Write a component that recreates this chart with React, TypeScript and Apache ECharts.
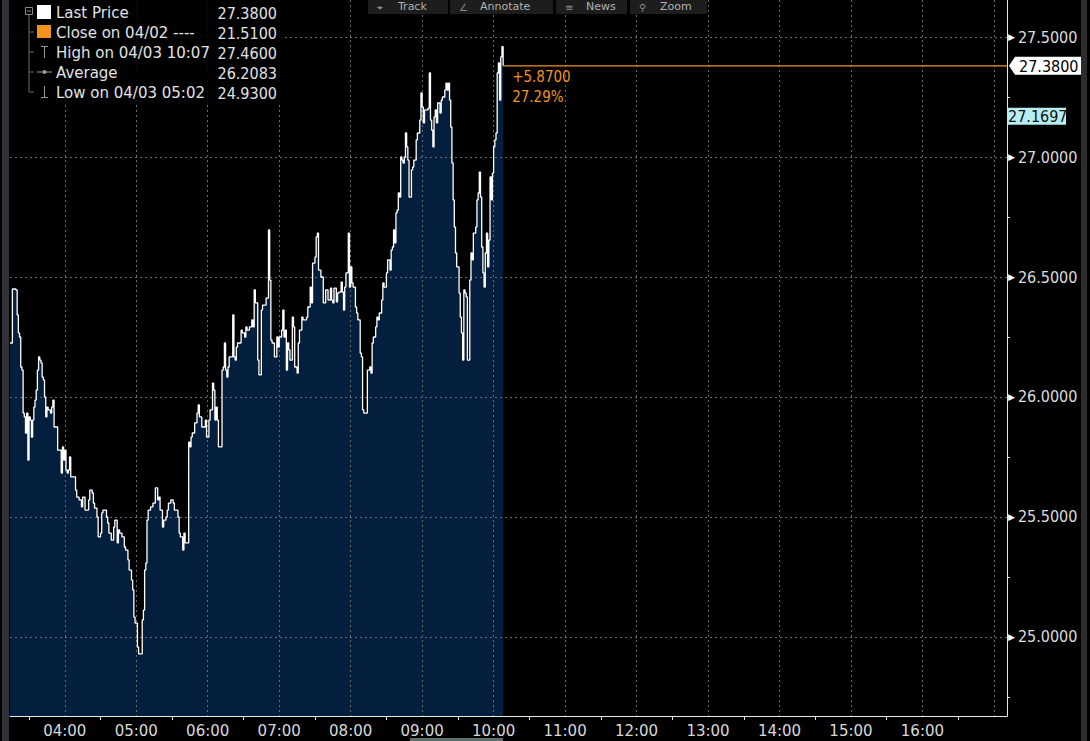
import React, { useEffect, useRef } from 'react';
import * as echarts from 'echarts';

// ---- data ----
const times = [
  '03:14','03:16','03:19','03:20','03:21','03:22','03:23','03:24','03:25','03:26','03:27','03:28','03:29','03:30','03:31','03:32','03:33','03:34','03:35','03:36',
  '03:37','03:38','03:39','03:40','03:41','03:42','03:43','03:44','03:45','03:46','03:47','03:48','03:49','03:50','03:51','03:53','03:54','03:56','03:57','03:58',
  '03:59','04:00','04:01','04:02','04:03','04:04','04:05','04:07','04:09','04:10','04:12','04:14','04:15','04:17','04:19','04:20','04:21','04:23','04:24','04:25',
  '04:27','04:28','04:30','04:31','04:32','04:35','04:36','04:37','04:39','04:41','04:42','04:44','04:45','04:46','04:48','04:50','04:51','04:53','04:54','04:56',
  '04:57','04:58','04:59','05:01','05:02','05:03','05:04','05:05','05:06','05:07','05:08','05:09','05:10','05:12','05:14','05:16','05:18','05:19','05:20','05:22',
  '05:23','05:25','05:26','05:27','05:29','05:31','05:32','05:35','05:36','05:37','05:39','05:40','05:41','05:43','05:44','05:45','05:46','05:47','05:49','05:51',
  '05:52','05:53','05:55','05:57','05:58','05:59','06:01','06:02','06:04','06:05','06:06','06:07','06:08','06:09','06:12','06:13','06:14','06:15','06:16','06:17',
  '06:18','06:21','06:22','06:23','06:24','06:25','06:28','06:29','06:31','06:32','06:33','06:35','06:37','06:38','06:39','06:40','06:42','06:43','06:45','06:46',
  '06:49','06:51','06:52','06:53','06:54','06:56','06:58','06:59','07:00','07:02','07:03','07:04','07:05','07:06','07:07','07:08','07:09','07:11','07:12','07:13',
  '07:15','07:16','07:17','07:19','07:20','07:23','07:24','07:26','07:27','07:28','07:30','07:31','07:32','07:33','07:35','07:37','07:39','07:41','07:43','07:44',
  '07:45','07:46','07:48','07:49','07:50','07:52','07:53','07:54','07:55','07:56','07:58','07:59','08:00','08:01','08:02','08:04','08:05','08:06','08:08','08:09',
  '08:10','08:11','08:14','08:16','08:17','08:18','08:19','08:21','08:22','08:23','08:24','08:26','08:27','08:28','08:30','08:31','08:33','08:34','08:35','08:36',
  '08:37','08:38','08:39','08:40','08:41','08:42','08:43','08:44','08:45','08:46','08:47','08:48','08:49','08:51','08:52','08:53','08:55','08:56','08:58','08:59',
  '09:00','09:01','09:02','09:05','09:06','09:07','09:08','09:09','09:10','09:11','09:12','09:13','09:15','09:16','09:17','09:19','09:20','09:21','09:22','09:23',
  '09:24','09:25','09:26','09:27','09:28','09:29','09:31','09:32','09:33','09:34','09:35','09:36','09:37','09:38','09:40','09:41','09:42','09:43','09:45','09:46',
  '09:47','09:48','09:49','09:50','09:51','09:52','09:53','09:54','09:55','09:56','09:57','09:58','09:59','10:00','10:01','10:02','10:03','10:04','10:05','10:06',
  '10:07','10:08'
];
const prices = [
  26.225,26.450,26.446,26.342,26.267,26.250,26.125,26.112,25.933,25.917,25.850,25.933,25.737,25.917,25.904,25.833,25.904,25.958,25.987,26.029,
  26.112,26.167,26.154,26.142,26.083,26.071,26.000,25.917,25.958,25.946,25.946,25.933,25.958,25.987,25.875,25.875,25.779,25.779,25.683,25.792,
  25.737,25.779,25.696,25.683,25.696,25.750,25.667,25.667,25.612,25.583,25.571,25.542,25.583,25.529,25.529,25.571,25.612,25.600,25.558,25.537,
  25.500,25.417,25.433,25.517,25.529,25.500,25.475,25.433,25.404,25.458,25.487,25.392,25.446,25.433,25.417,25.375,25.362,25.321,25.279,25.237,
  25.196,25.083,25.058,24.958,24.930,24.930,24.930,25.071,25.112,25.279,25.308,25.487,25.529,25.542,25.558,25.621,25.571,25.583,25.529,25.458,
  25.487,25.500,25.529,25.558,25.571,25.558,25.529,25.500,25.433,25.417,25.362,25.433,25.392,25.392,25.812,25.792,25.833,25.850,25.892,25.933,
  25.967,25.917,25.875,25.875,25.904,25.833,25.904,25.946,26.058,26.029,25.904,25.958,25.904,25.792,26.112,26.125,26.225,26.112,26.083,26.125,
  26.167,26.342,26.167,26.154,26.208,26.225,26.279,26.267,26.250,26.292,26.279,26.292,26.321,26.292,26.446,26.392,26.154,26.092,26.362,26.383,
  26.412,26.696,26.487,26.237,26.225,26.167,26.250,26.208,26.250,26.279,26.362,26.250,26.279,26.112,26.225,26.196,26.154,26.333,26.292,26.125,
  26.100,26.225,26.279,26.333,26.321,26.333,26.375,26.458,26.392,26.558,26.583,26.667,26.683,26.529,26.500,26.392,26.446,26.404,26.454,26.404,
  26.392,26.454,26.396,26.433,26.437,26.479,26.437,26.362,26.458,26.517,26.683,26.458,26.542,26.475,26.458,26.375,26.350,26.321,26.183,26.167,
  25.946,25.933,26.112,26.125,26.100,26.225,26.250,26.292,26.333,26.321,26.350,26.404,26.475,26.458,26.517,26.571,26.529,26.612,26.625,26.696,
  26.642,26.767,26.779,26.850,26.833,27.000,26.987,26.975,27.000,27.100,27.042,26.987,26.833,26.946,26.958,26.987,27.071,27.100,27.154,27.267,
  27.208,27.142,27.196,27.204,27.350,27.154,27.112,27.042,27.167,27.196,27.142,27.225,27.183,27.237,27.250,27.279,27.308,27.279,27.308,27.237,
  27.125,26.975,26.821,26.708,26.600,26.542,26.433,26.333,26.267,26.154,26.446,26.433,26.417,26.154,26.487,26.600,26.571,26.683,26.708,26.821,
  26.850,26.937,26.833,26.625,26.517,26.458,26.600,26.683,26.542,26.654,26.917,26.821,26.933,27.042,27.071,27.100,27.350,27.392,27.237,27.417,
  27.460,27.380
];
const axisStart = '03:14';
const axisEnd = '17:11';
const hourTicks = ['04:00','05:00','06:00','07:00','08:00','09:00','10:00','11:00','12:00','13:00','14:00','15:00','16:00','17:00'];
const hourLabels = ['04:00','05:00','06:00','07:00','08:00','09:00','10:00','11:00','12:00','13:00','14:00','15:00','16:00'];
const halfHourTicks = ['03:30','04:30','05:30','06:30','07:30','08:30','09:30','10:30','11:30','12:30','13:30','14:30','15:30','16:30'];
const yMin = 24.6708;
const yMax = 27.6542;
const yMajor = [25.0, 25.5, 26.0, 26.5, 27.0, 27.5];
const yMinor = [24.75, 25.25, 25.75, 26.25, 26.75, 27.25];
const legendLabels = ['Last Price', 'Close on 04/02 ----', 'High on 04/03 10:07', 'Average', 'Low on 04/03 05:02'];
const legendValues = ['27.3800', '21.5100', '27.4600', '26.2083', '24.9300'];
const lastPrice = 27.38;
const prevClose = 21.51;
const markerLevel = 27.1697;
const toolbarItems = ['Track', 'Annotate', 'News', 'Zoom'];
const toolbarIcons = ['⌖', '∠', '≡', '⚲'];

const toMin = (s: string) => {
  const [h, m] = s.split(':').map(Number);
  return h * 60 + m;
};
const fmtTime = (v: number) => {
  const h = Math.floor(v / 60);
  const m = Math.round(v - h * 60);
  return `${String(h).padStart(2, '0')}:${String(m).padStart(2, '0')}`;
};

const FONT = '"DejaVu Sans", sans-serif';
const NUMFONT = '"DejaVu Sans Condensed", "DejaVu Sans", sans-serif';
const ORANGE = '#f0931f';
const GRID_LINE = { color: '#6a6a6a', width: 1, type: [2, 3] as number[] };

export default function App() {
  const ref = useRef<HTMLDivElement>(null);

  useEffect(() => {
    if (!ref.current) return;
    const chart = echarts.init(ref.current, undefined, { renderer: 'svg' });
    const data = times.map((t, i) => [toMin(t), prices[i]]);
    const lastT = toMin(times[times.length - 1]);
    const xMin = toMin(axisStart);
    const xMax = toMin(axisEnd);

    const gridBox = { left: 10, right: 83, top: 0, bottom: 25, outerBoundsMode: 'none' } as any;

    chart.setOption({
      animation: false,
      backgroundColor: '#000',
      textStyle: { fontFamily: FONT },
      grid: [gridBox, { ...gridBox }],
      xAxis: [
        {
          type: 'value', gridIndex: 0, min: xMin, max: xMax, position: 'bottom', z: 3,
          axisLine: { show: true, onZero: false, lineStyle: { color: '#e8e8e8', width: 1 } },
          axisTick: { show: false, customValues: hourTicks.map(toMin) },
          axisLabel: {
            customValues: hourLabels.map(toMin), formatter: (v: number) => fmtTime(v),
            color: '#d8d8d8', fontSize: 15, margin: 7, fontFamily: FONT,
          },
          splitLine: { show: true, lineStyle: GRID_LINE },
        },
        {
          type: 'value', gridIndex: 1, min: xMin, max: xMax, position: 'bottom', z: 3,
          axisLine: { show: false },
          axisTick: { show: true, length: 4, customValues: halfHourTicks.map(toMin), lineStyle: { color: '#e8e8e8' } },
          axisLabel: { show: false },
          splitLine: { show: false },
        },
      ],
      yAxis: [
        {
          type: 'value', gridIndex: 0, min: yMin, max: yMax, position: 'right', z: 3,
          axisLine: { show: true, onZero: false, lineStyle: { color: '#e8e8e8', width: 1 } },
          axisTick: { show: false, customValues: yMajor },
          axisLabel: {
            customValues: yMajor, margin: 1,
            formatter: (v: number) => `{t|▶}{v|${v.toFixed(4)}}`,
            rich: {
              t: { fontSize: 9, color: '#ffffff', fontFamily: FONT, padding: [0, 3, 0, 0] },
              v: { fontSize: 16, color: '#dcdcdc', fontFamily: NUMFONT },
            },
          },
          splitLine: { show: true, lineStyle: GRID_LINE },
        },
        {
          type: 'value', gridIndex: 1, min: yMin, max: yMax, position: 'right', z: 3,
          axisLine: { show: false },
          axisTick: { show: true, length: 3, customValues: yMinor, lineStyle: { color: '#e8e8e8' } },
          axisLabel: { show: false },
          splitLine: { show: false },
        },
      ],
      series: [
        {
          name: 'area', type: 'line', xAxisIndex: 0, yAxisIndex: 0, step: 'end', data,
          showSymbol: false, silent: true, z: 1,
          lineStyle: { width: 0, opacity: 0 },
          areaStyle: { color: '#041f3d', opacity: 1, origin: 'start' },
        },
        {
          name: 'Last Price', type: 'line', xAxisIndex: 0, yAxisIndex: 0, step: 'end', data,
          showSymbol: false, silent: true, z: 5,
          lineStyle: { color: '#ffffff', width: 1.3 },
        },
        {
          name: 'last', type: 'line', xAxisIndex: 0, yAxisIndex: 0,
          data: [[lastT, lastPrice], [xMax, lastPrice]],
          showSymbol: false, silent: true, z: 5,
          lineStyle: { color: ORANGE, width: 1.2 },
        },
      ],
    });

    const [lx, ly] = chart.convertToPixel({ xAxisIndex: 0, yAxisIndex: 0 }, [lastT, lastPrice]) as number[];
    const my = chart.convertToPixel({ yAxisIndex: 0 }, markerLevel) as number;
    const axisX = chart.convertToPixel({ xAxisIndex: 0 }, xMax) as number;
    const change = lastPrice - prevClose;
    const pct = (change / prevClose) * 100;

    const g: any[] = [];
    // side strips
    g.push({ type: 'rect', z: 20, shape: { x: 2, y: 0, width: 7, height: 741 }, style: { fill: '#2f3338' } });
    g.push({ type: 'rect', z: 20, shape: { x: 1081, y: 0, width: 6, height: 741 }, style: { fill: '#2c2c2c' } });
    g.push({ type: 'rect', z: 20, shape: { x: 410, y: 738, width: 93, height: 3 }, style: { fill: '#5e6e6e' } });

    // toolbar
    const tbX = [368, 450, 556, 630];
    const tbW = [80, 103, 71, 77];
    toolbarItems.forEach((t, i) => {
      g.push({ type: 'rect', z: 20, shape: { x: tbX[i], y: 0, width: tbW[i], height: 14 }, style: { fill: '#1d1d1d' } });
      g.push({ type: 'text', z: 21, x: tbX[i] + 9, y: 2, style: { text: toolbarIcons[i], fill: '#8a8a8a', font: `10px ${FONT}`, verticalAlign: 'top' } });
      g.push({ type: 'text', z: 21, x: tbX[i] + 30, y: 1, style: { text: t, fill: '#b0b0b0', font: `11px ${FONT}`, verticalAlign: 'top' } });
    });

    // legend box
    g.push({ type: 'rect', z: 20, shape: { x: 10, y: 0, width: 273, height: 103 }, style: { fill: 'rgba(0,0,0,0.88)' } });
    const rowY = [12, 32, 52, 72, 92];
    // tree
    g.push({ type: 'rect', z: 21, shape: { x: 25.5, y: 7.5, width: 7, height: 7 }, style: { fill: 'none', stroke: '#8a8a8a', lineWidth: 1 } });
    g.push({ type: 'line', z: 21, shape: { x1: 27, y1: 11, x2: 31, y2: 11 }, style: { stroke: '#8a8a8a', lineWidth: 1 } });
    g.push({ type: 'line', z: 21, shape: { x1: 29, y1: 15, x2: 29, y2: 92 }, style: { stroke: '#6a6a6a', lineWidth: 1 } });
    rowY.slice(1).forEach((y) => {
      g.push({ type: 'line', z: 21, shape: { x1: 29, y1: y, x2: 34, y2: y }, style: { stroke: '#6a6a6a', lineWidth: 1 } });
    });
    // icons
    g.push({ type: 'rect', z: 21, shape: { x: 37, y: 5, width: 14, height: 14 }, style: { fill: '#ffffff' } });
    g.push({ type: 'rect', z: 21, shape: { x: 37, y: 25, width: 14, height: 13 }, style: { fill: ORANGE } });
    g.push({ type: 'line', z: 21, shape: { x1: 44.5, y1: 46, x2: 44.5, y2: 58 }, style: { stroke: '#9a9a9a', lineWidth: 1 } });
    g.push({ type: 'line', z: 21, shape: { x1: 41, y1: 46.5, x2: 48, y2: 46.5 }, style: { stroke: '#9a9a9a', lineWidth: 1 } });
    g.push({ type: 'line', z: 21, shape: { x1: 37, y1: 72, x2: 52, y2: 72 }, style: { stroke: '#9a9a9a', lineWidth: 1 } });
    g.push({ type: 'circle', z: 21, shape: { cx: 44.5, cy: 72, r: 2 }, style: { fill: '#9a9a9a' } });
    g.push({ type: 'line', z: 21, shape: { x1: 44.5, y1: 86, x2: 44.5, y2: 98 }, style: { stroke: '#9a9a9a', lineWidth: 1 } });
    g.push({ type: 'line', z: 21, shape: { x1: 41, y1: 97.5, x2: 48, y2: 97.5 }, style: { stroke: '#9a9a9a', lineWidth: 1 } });
    legendLabels.forEach((t, i) => {
      g.push({ type: 'text', z: 21, x: 56, y: rowY[i] + 1, style: { text: t, fill: '#e2e2e2', font: `15px ${FONT}`, verticalAlign: 'middle' } });
      g.push({ type: 'text', z: 21, x: 277, y: rowY[i] + 1, style: { text: legendValues[i], fill: '#e2e2e2', font: `16px ${NUMFONT}`, align: 'right', verticalAlign: 'middle' } });
    });

    // change annotation
    g.push({ type: 'text', z: 21, x: lx + 9, y: ly + 11, style: { text: `+${change.toFixed(4)}`, fill: ORANGE, font: `15px ${NUMFONT}`, verticalAlign: 'middle' } });
    g.push({ type: 'text', z: 21, x: lx + 9, y: ly + 31, style: { text: `${pct.toFixed(2)}%`, fill: ORANGE, font: `15px ${NUMFONT}`, verticalAlign: 'middle' } });

    // axis tags
    g.push({
      type: 'polygon', z: 21,
      shape: { points: [[axisX + 2, ly], [axisX + 8, ly - 9], [axisX + 74, ly - 9], [axisX + 74, ly + 9], [axisX + 8, ly + 9]] },
      style: { fill: '#ffffff' },
    });
    g.push({ type: 'text', z: 22, x: axisX + 12, y: ly + 1, style: { text: lastPrice.toFixed(4), fill: '#000', font: `16px ${NUMFONT}`, verticalAlign: 'middle' } });
    g.push({ type: 'rect', z: 21, shape: { x: axisX, y: my - 8.5, width: 59, height: 17 }, style: { fill: '#b6eef4' } });
    g.push({ type: 'text', z: 22, x: axisX + 1, y: my + 0.5, style: { text: markerLevel.toFixed(4), fill: '#111', font: `16px ${NUMFONT}`, verticalAlign: 'middle' } });

    chart.setOption({ graphic: g });

    return () => chart.dispose();
  }, []);

  return (
    <div
      ref={ref}
      style={{ position: 'absolute', left: 0, top: 0, width: 1090, height: 741, background: '#000' }}
    />
  );
}
